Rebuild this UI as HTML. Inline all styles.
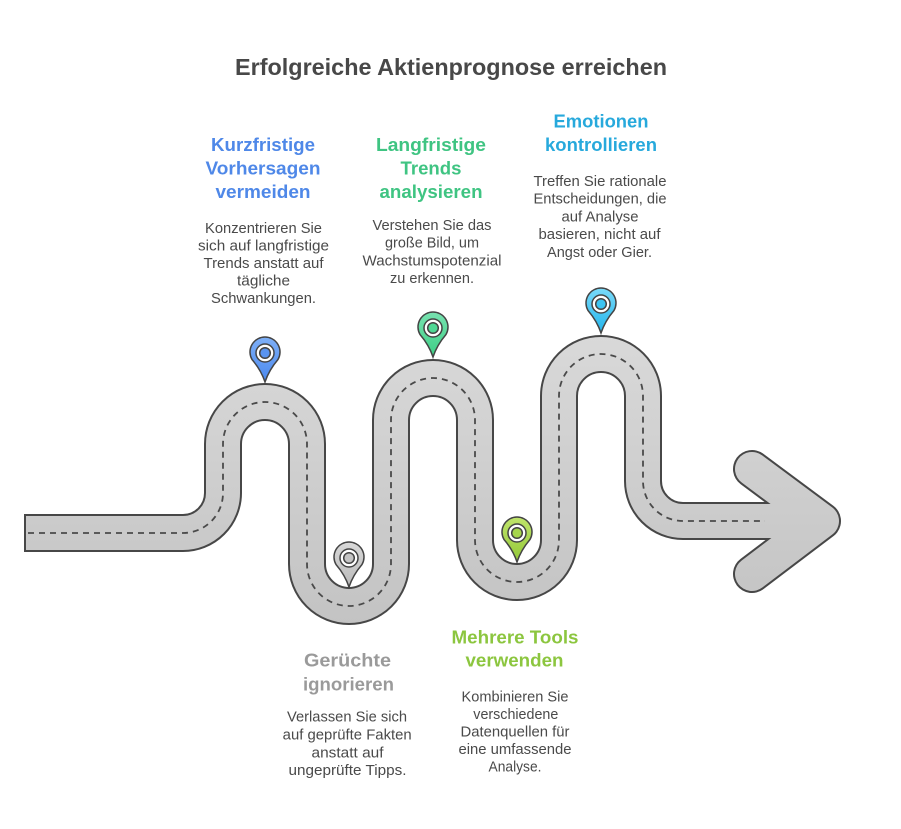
<!DOCTYPE html>
<html><head><meta charset="utf-8"><style>
html,body{margin:0;padding:0;background:#fff;}
svg{display:block;}
text{font-family:"Liberation Sans",Arial,sans-serif;}
.h{font-weight:bold;font-size:18px;}
.b{font-size:14.5px;fill:#4a4a4a;}
</style></head><body>
<svg width="901" height="829" viewBox="0 0 901 829" xmlns="http://www.w3.org/2000/svg">
<defs>
<linearGradient id="rg" gradientUnits="userSpaceOnUse" x1="0" y1="335" x2="0" y2="625">
<stop offset="0" stop-color="#d9d9d9"/><stop offset="1" stop-color="#c3c3c3"/></linearGradient>
<linearGradient id="pb" x1="0" y1="0" x2="0" y2="1"><stop offset="0" stop-color="#7fb0f7"/><stop offset="1" stop-color="#4a88ee"/></linearGradient>
<linearGradient id="pg" x1="0" y1="0" x2="0" y2="1"><stop offset="0" stop-color="#78e2b0"/><stop offset="1" stop-color="#3ccf85"/></linearGradient>
<linearGradient id="pc" x1="0" y1="0" x2="0" y2="1"><stop offset="0" stop-color="#7adaf9"/><stop offset="1" stop-color="#22b5ec"/></linearGradient>
<linearGradient id="pl" x1="0" y1="0" x2="0" y2="1"><stop offset="0" stop-color="#c0e46c"/><stop offset="1" stop-color="#92c836"/></linearGradient>
<linearGradient id="pa" x1="0" y1="0" x2="0" y2="1"><stop offset="0" stop-color="#d8d8d8"/><stop offset="1" stop-color="#bababa"/></linearGradient>
</defs>
<rect width="901" height="829" fill="#fff"/>

<text x="451" y="75" text-anchor="middle" font-weight="bold" font-size="23.5" fill="#484848" textLength="432" lengthAdjust="spacingAndGlyphs">Erfolgreiche Aktienprognose erreichen</text>

<!-- road -->
<path d="M752 469 L822 521 L752 574" fill="none" stroke="#474747" stroke-width="38" stroke-linecap="round" stroke-linejoin="round"/>
<path d="M24 533 H183 A40 40 0 0 0 223 493 V444 A42 42 0 0 1 307 444 V564 A42 42 0 0 0 391 564 V420 A42 42 0 0 1 475 420 V540 A42 42 0 0 0 559 540 V396 A42 42 0 0 1 643 396 V481 A40 40 0 0 0 683 521 H810" fill="none" stroke="#474747" stroke-width="38"/>
<path d="M752 469 L822 521 L752 574" fill="none" stroke="url(#rg)" stroke-width="34" stroke-linecap="round" stroke-linejoin="round"/>
<path d="M26 533 H183 A40 40 0 0 0 223 493 V444 A42 42 0 0 1 307 444 V564 A42 42 0 0 0 391 564 V420 A42 42 0 0 1 475 420 V540 A42 42 0 0 0 559 540 V396 A42 42 0 0 1 643 396 V481 A40 40 0 0 0 683 521 H812" fill="none" stroke="url(#rg)" stroke-width="34"/>
<path d="M28 533 H183 A40 40 0 0 0 223 493 V444 A42 42 0 0 1 307 444 V564 A42 42 0 0 0 391 564 V420 A42 42 0 0 1 475 420 V540 A42 42 0 0 0 559 540 V396 A42 42 0 0 1 643 396 V481 A40 40 0 0 0 683 521 H765" fill="none" stroke="#4a4a4a" stroke-width="1.8" stroke-dasharray="6 5"/>

<!-- pins -->
<g transform="translate(265,382)">
<path d="M0 0 Q-4 -12 -13 -22.5 A15 15 0 1 1 13 -22.5 Q4 -12 0 0 Z" fill="url(#pb)" stroke="#444" stroke-width="1.5"/>
<circle cx="0" cy="-29" r="9" fill="#fff" stroke="#444" stroke-width="1.5"/>
<circle cx="0" cy="-29" r="5.3" fill="#5a94f0" stroke="#444" stroke-width="1.5"/>
</g>
<g transform="translate(349,587)">
<path d="M0 0 Q-4 -12 -13 -22.5 A15 15 0 1 1 13 -22.5 Q4 -12 0 0 Z" fill="url(#pa)" stroke="#444" stroke-width="1.5"/>
<circle cx="0" cy="-29" r="9" fill="#fff" stroke="#444" stroke-width="1.5"/>
<circle cx="0" cy="-29" r="5.3" fill="#c4c4c4" stroke="#444" stroke-width="1.5"/>
</g>
<g transform="translate(433,357)">
<path d="M0 0 Q-4 -12 -13 -22.5 A15 15 0 1 1 13 -22.5 Q4 -12 0 0 Z" fill="url(#pg)" stroke="#444" stroke-width="1.5"/>
<circle cx="0" cy="-29" r="9" fill="#fff" stroke="#444" stroke-width="1.5"/>
<circle cx="0" cy="-29" r="5.3" fill="#4fd894" stroke="#444" stroke-width="1.5"/>
</g>
<g transform="translate(517,562)">
<path d="M0 0 Q-4 -12 -13 -22.5 A15 15 0 1 1 13 -22.5 Q4 -12 0 0 Z" fill="url(#pl)" stroke="#444" stroke-width="1.5"/>
<circle cx="0" cy="-29" r="9" fill="#fff" stroke="#444" stroke-width="1.5"/>
<circle cx="0" cy="-29" r="5.3" fill="#a6d64c" stroke="#444" stroke-width="1.5"/>
</g>
<g transform="translate(601,333)">
<path d="M0 0 Q-4 -12 -13 -22.5 A15 15 0 1 1 13 -22.5 Q4 -12 0 0 Z" fill="url(#pc)" stroke="#444" stroke-width="1.5"/>
<circle cx="0" cy="-29" r="9" fill="#fff" stroke="#444" stroke-width="1.5"/>
<circle cx="0" cy="-29" r="5.3" fill="#3cc4f2" stroke="#444" stroke-width="1.5"/>
</g>

<!-- Blue -->
<g fill="#4f88e8" class="h" text-anchor="middle">
<text class="h" x="263" y="151" textLength="104" lengthAdjust="spacingAndGlyphs">Kurzfristige</text>
<text class="h" x="263" y="174.5" textLength="115" lengthAdjust="spacingAndGlyphs">Vorhersagen</text>
<text class="h" x="263" y="198" textLength="95" lengthAdjust="spacingAndGlyphs">vermeiden</text>
</g>
<g text-anchor="middle">
<text class="b" x="263.5" y="233" textLength="117" lengthAdjust="spacingAndGlyphs">Konzentrieren Sie</text>
<text class="b" x="263.5" y="250.5" textLength="131" lengthAdjust="spacingAndGlyphs">sich auf langfristige</text>
<text class="b" x="263.5" y="268" textLength="120" lengthAdjust="spacingAndGlyphs">Trends anstatt auf</text>
<text class="b" x="263.5" y="285.5" textLength="53" lengthAdjust="spacingAndGlyphs">tägliche</text>
<text class="b" x="263.5" y="303" textLength="105" lengthAdjust="spacingAndGlyphs">Schwankungen.</text>
</g>

<!-- Green -->
<g fill="#3fc482" text-anchor="middle">
<text class="h" x="431" y="151" textLength="110" lengthAdjust="spacingAndGlyphs">Langfristige</text>
<text class="h" x="431" y="174.5" textLength="61" lengthAdjust="spacingAndGlyphs">Trends</text>
<text class="h" x="431" y="198" textLength="103" lengthAdjust="spacingAndGlyphs">analysieren</text>
</g>
<g text-anchor="middle">
<text class="b" x="432" y="230" textLength="119" lengthAdjust="spacingAndGlyphs">Verstehen Sie das</text>
<text class="b" x="432" y="247.7" textLength="94" lengthAdjust="spacingAndGlyphs">große Bild, um</text>
<text class="b" x="432" y="265.3" textLength="139" lengthAdjust="spacingAndGlyphs">Wachstumspotenzial</text>
<text class="b" x="432" y="283" textLength="84" lengthAdjust="spacingAndGlyphs">zu erkennen.</text>
</g>

<!-- Cyan -->
<g fill="#27a9dc" text-anchor="middle">
<text class="h" x="601" y="127.7" textLength="95" lengthAdjust="spacingAndGlyphs">Emotionen</text>
<text class="h" x="601" y="151" textLength="112" lengthAdjust="spacingAndGlyphs">kontrollieren</text>
</g>
<g text-anchor="middle">
<text class="b" x="600" y="186" textLength="133" lengthAdjust="spacingAndGlyphs">Treffen Sie rationale</text>
<text class="b" x="600" y="203.7" textLength="133" lengthAdjust="spacingAndGlyphs">Entscheidungen, die</text>
<text class="b" x="600" y="221.4" textLength="77" lengthAdjust="spacingAndGlyphs">auf Analyse</text>
<text class="b" x="599.5" y="239.1" textLength="122" lengthAdjust="spacingAndGlyphs">basieren, nicht auf</text>
<text class="b" x="599.5" y="256.8" textLength="105" lengthAdjust="spacingAndGlyphs">Angst oder Gier.</text>
</g>

<!-- Gray -->
<g fill="#9a9a9a" text-anchor="middle">
<text class="h" x="347.5" y="666.7" textLength="87" lengthAdjust="spacingAndGlyphs">Gerüchte</text>
<text class="h" x="348.5" y="690.7" textLength="91" lengthAdjust="spacingAndGlyphs">ignorieren</text>
</g>
<g text-anchor="middle">
<text class="b" x="347" y="721.7" textLength="120" lengthAdjust="spacingAndGlyphs">Verlassen Sie sich</text>
<text class="b" x="347.2" y="739.5" textLength="129" lengthAdjust="spacingAndGlyphs">auf geprüfte Fakten</text>
<text class="b" x="347.5" y="757.3" textLength="72" lengthAdjust="spacingAndGlyphs">anstatt auf</text>
<text class="b" x="347.5" y="775" textLength="118" lengthAdjust="spacingAndGlyphs">ungeprüfte Tipps.</text>
</g>

<!-- Lime -->
<g fill="#8cc63f" text-anchor="middle">
<text class="h" x="515" y="643.3" textLength="127" lengthAdjust="spacingAndGlyphs">Mehrere Tools</text>
<text class="h" x="514.5" y="666.7" textLength="98" lengthAdjust="spacingAndGlyphs">verwenden</text>
</g>
<g text-anchor="middle">
<text class="b" x="515" y="701.7" textLength="107" lengthAdjust="spacingAndGlyphs">Kombinieren Sie</text>
<text class="b" x="515.8" y="719.2" textLength="85" lengthAdjust="spacingAndGlyphs">verschiedene</text>
<text class="b" x="515" y="736.7" textLength="109" lengthAdjust="spacingAndGlyphs">Datenquellen für</text>
<text class="b" x="515" y="754.2" textLength="113" lengthAdjust="spacingAndGlyphs">eine umfassende</text>
<text class="b" x="515" y="771.7" textLength="53" lengthAdjust="spacingAndGlyphs">Analyse.</text>
</g>
</svg>
</body></html>
